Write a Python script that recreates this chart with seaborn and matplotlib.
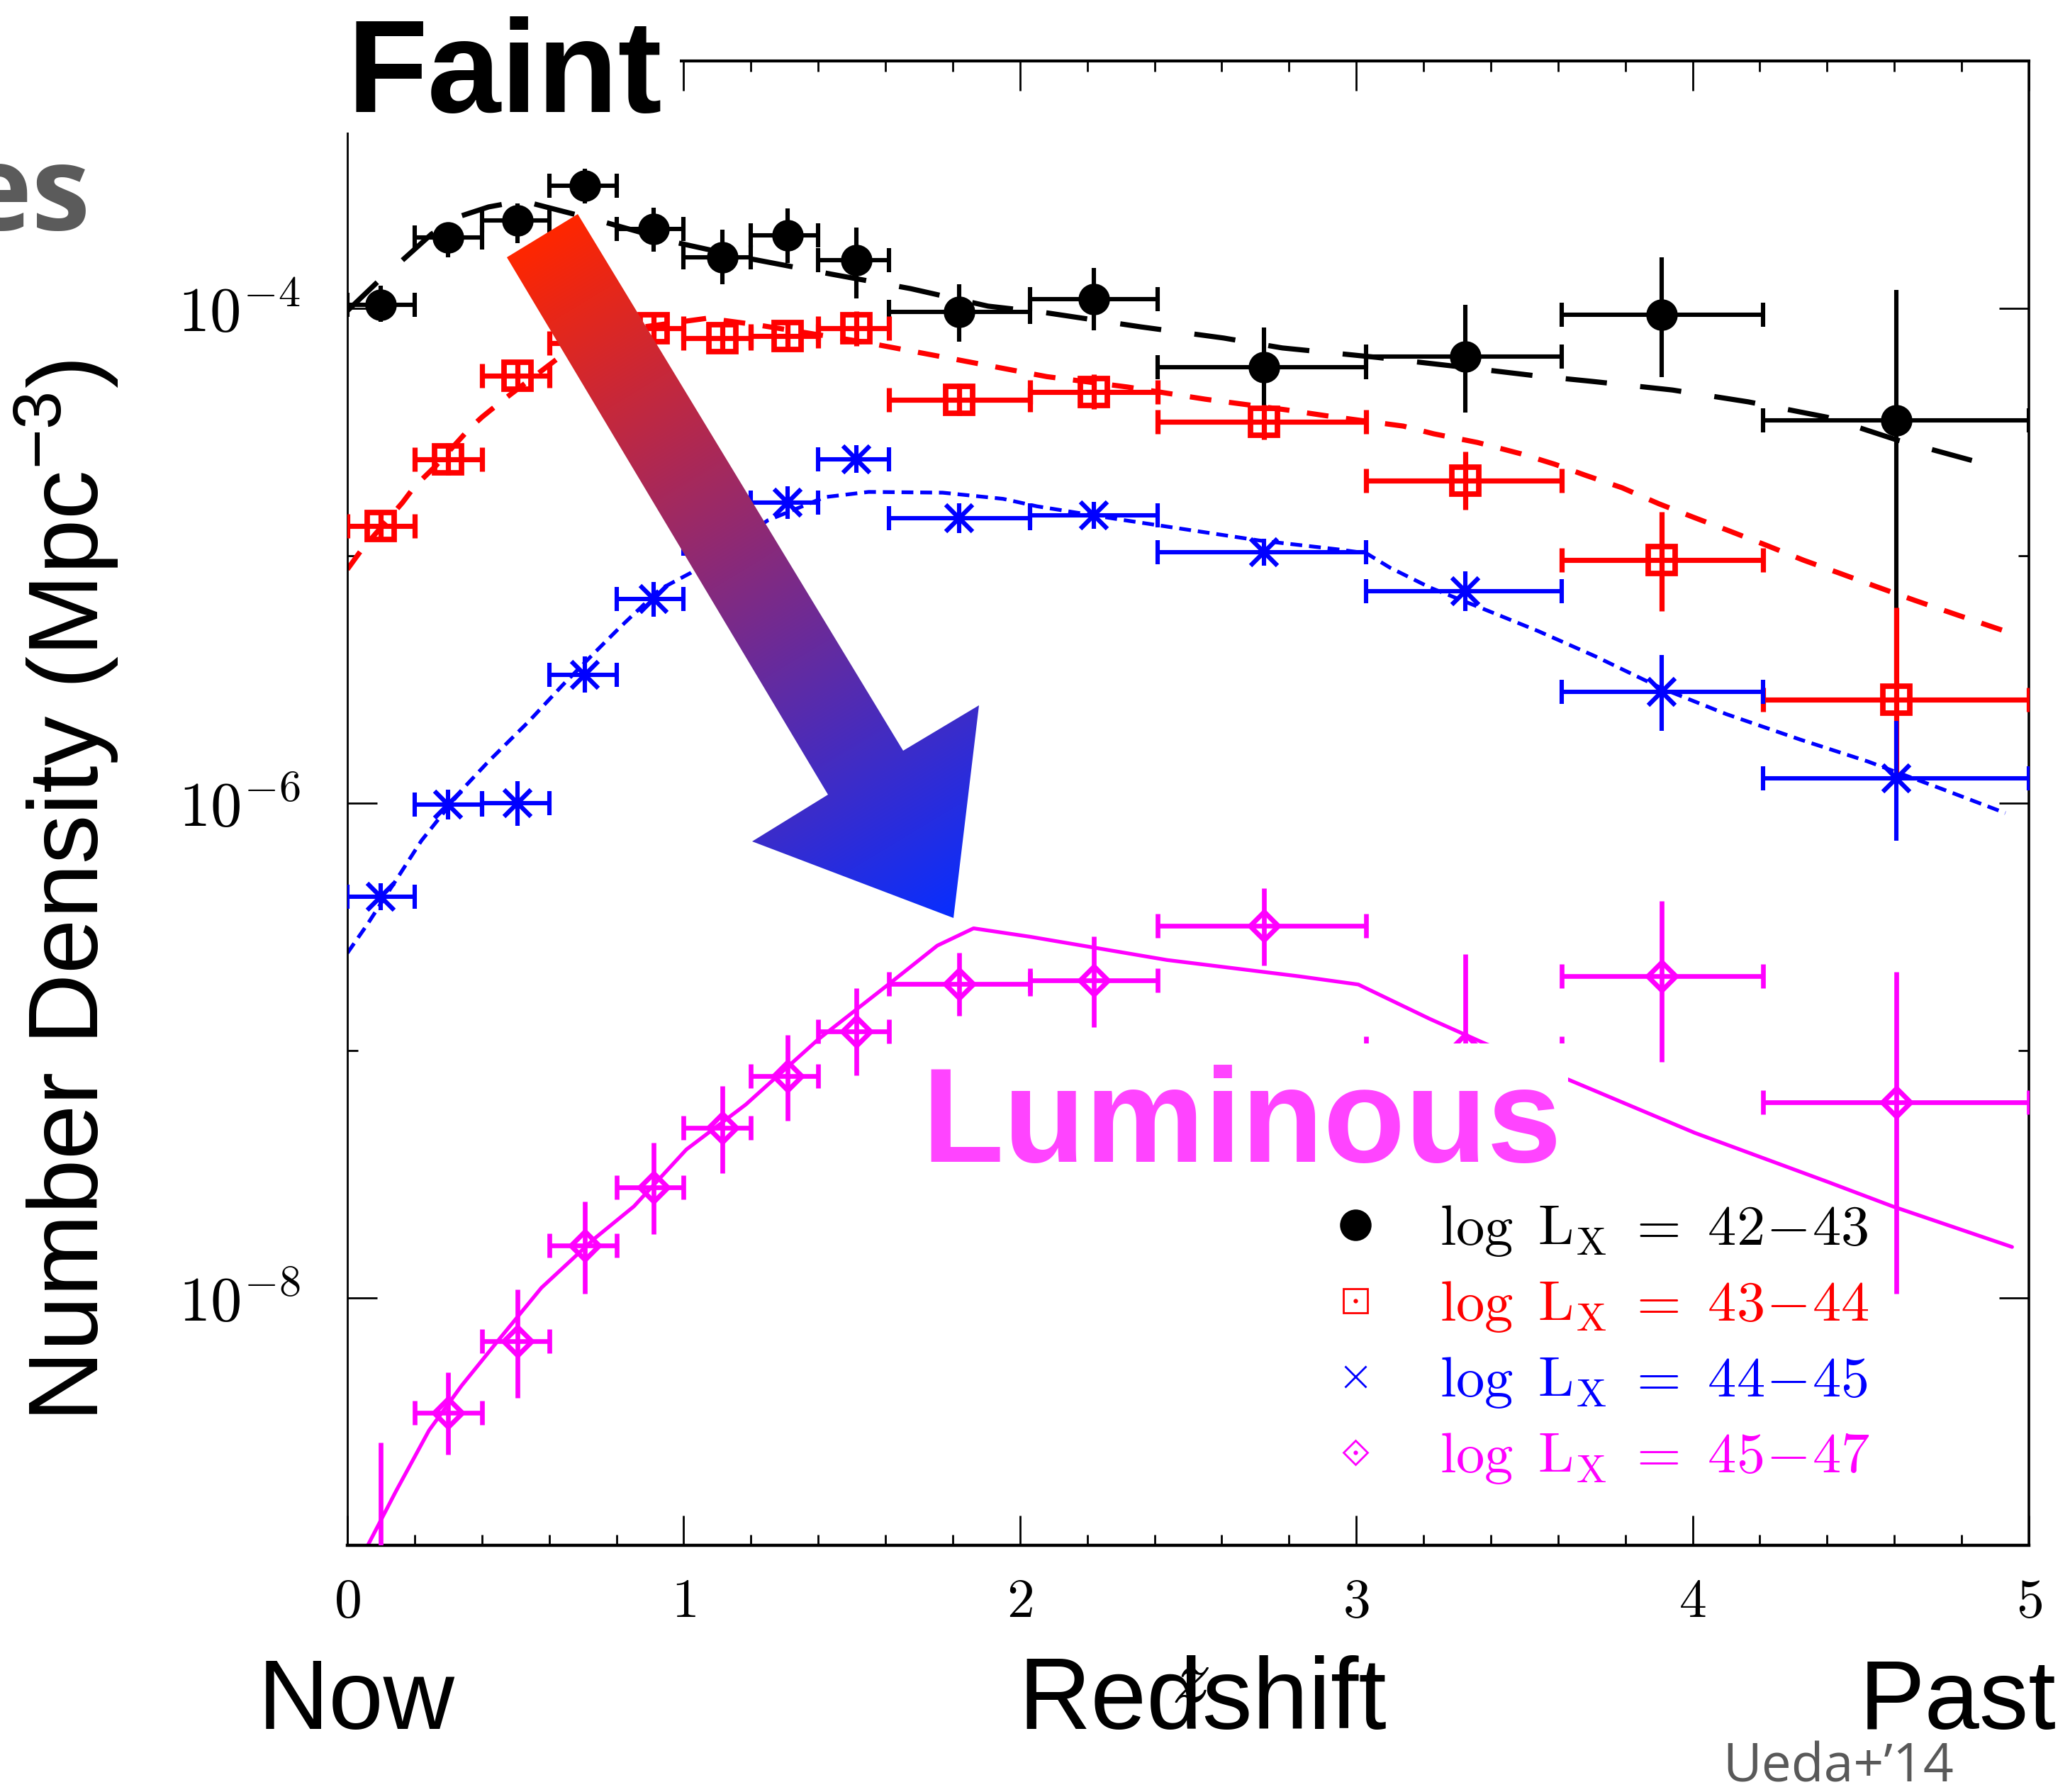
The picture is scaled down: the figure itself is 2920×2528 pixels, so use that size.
import numpy as np
import matplotlib
matplotlib.use("Agg")
import matplotlib.pyplot as plt
import seaborn as sns
from matplotlib.lines import Line2D
from matplotlib.patches import Polygon, Rectangle
from matplotlib.ticker import FixedLocator, MultipleLocator, FuncFormatter, NullFormatter

# ---------------- data (log10 of number density, Mpc^-3) ----------------
Z_MID = [0.10, 0.30, 0.505, 0.707, 0.91, 1.115, 1.31, 1.513, 1.82, 2.22, 2.726, 3.324, 3.909, 4.606]
BIN_LO = [0.0, 0.2, 0.4, 0.6, 0.8, 1.0, 1.2, 1.4, 1.61, 2.03, 2.41, 3.03, 3.61, 4.21]
BIN_HI = [0.2, 0.4, 0.6, 0.8, 1.0, 1.2, 1.4, 1.61, 2.03, 2.41, 3.03, 3.61, 4.21, 5.0]

LOG_42 = [-3.986, -3.713, -3.646, -3.504, -3.680, -3.794, -3.704, -3.805, -4.014, -3.963, -4.238, -4.196, -4.026, -4.453]
LOG_42_LO = [-4.054, -3.794, -3.736, -3.576, -3.771, -3.903, -3.817, -3.960, -4.135, -4.089, -4.400, -4.420, -4.277, -5.500]
LOG_42_HI = [-3.908, -3.669, -3.576, -3.435, -3.593, -3.682, -3.595, -3.673, -3.903, -3.838, -4.077, -3.986, -3.794, -3.925]

LOG_43 = [-4.880, -4.609, -4.273, -4.140, -4.081, -4.120, -4.113, -4.081, -4.369, -4.337, -4.459, -4.697, -5.018, -5.582]
LOG_43_LO = [-4.940, -4.674, -4.333, -4.190, -4.141, -4.180, -4.173, -4.151, -4.434, -4.407, -4.529, -4.814, -5.223, -5.900]
LOG_43_HI = [-4.820, -4.544, -4.213, -4.090, -4.021, -4.060, -4.053, -4.011, -4.304, -4.267, -4.389, -4.579, -4.821, -5.209]

LOG_44 = [-6.379, -6.006, -6.001, -5.480, -5.176, -4.950, -4.785, -4.609, -4.849, -4.836, -4.985, -5.143, -5.550, -5.900]
LOG_44_LO = [-6.434, -6.066, -6.091, -5.553, -5.246, -5.010, -4.850, -4.664, -4.909, -4.891, -5.040, -5.223, -5.707, -6.152]
LOG_44_HI = [-6.324, -5.946, -5.911, -5.407, -5.106, -4.890, -4.720, -4.554, -4.789, -4.781, -4.930, -5.062, -5.400, -5.669]

LOG_45 = [-9.250, -8.464, -8.176, -7.789, -7.553, -7.312, -7.103, -6.922, -6.730, -6.715, -6.497, -6.990, -6.700, -7.210]
LOG_45_LO = [-9.600, -8.634, -8.403, -7.983, -7.742, -7.495, -7.283, -7.100, -6.859, -6.905, -6.657, -7.400, -7.045, -7.983]
LOG_45_HI = [-8.585, -8.300, -7.967, -7.610, -7.372, -7.144, -6.938, -6.749, -6.606, -6.540, -6.343, -6.609, -6.394, -6.683]

# model curves
MOD_42_Z = [0, 0.1, 0.16, 0.25, 0.33, 0.42, 0.52, 0.59, 0.745, 0.985, 1.2, 1.44, 1.674, 1.905, 2.074,
            2.36, 2.606, 2.78, 3.06, 3.30, 3.53, 3.70, 3.94, 4.166, 4.40, 4.61, 4.85, 4.91]
MOD_42_LOG = [-4.01, -3.88, -3.81, -3.70, -3.63, -3.59, -3.565, -3.59, -3.644, -3.736, -3.80, -3.862, -3.92,
              -3.991, -4.017, -4.075, -4.12, -4.16, -4.198, -4.235, -4.272, -4.295, -4.33, -4.378, -4.44,
              -4.533, -4.622, -4.65]
MOD_43_Z = [0, 0.04, 0.164, 0.20, 0.262, 0.364, 0.40, 0.459, 0.63, 0.80, 1.07, 1.215, 1.53, 1.80, 2.08, 2.32,
            2.55, 2.79, 2.92, 3.14, 3.23, 3.36, 3.49, 3.59, 3.68, 3.79, 3.90, 4.00, 4.11, 4.22, 4.33, 4.44,
            4.545, 4.66, 4.78, 4.886, 4.93]
MOD_43_LOG = [-5.055, -4.98, -4.785, -4.72, -4.638, -4.485, -4.44, -4.375, -4.198, -4.09, -4.04, -4.066,
              -4.135, -4.204, -4.276, -4.318, -4.367, -4.41, -4.436, -4.476, -4.507, -4.542, -4.588, -4.63,
              -4.674, -4.725, -4.79, -4.843, -4.90, -4.958, -5.018, -5.072, -5.124, -5.18, -5.236, -5.285, -5.305]
MOD_44_Z = [0, 0.06, 0.15, 0.22, 0.34, 0.42, 0.54, 0.64, 0.74, 0.81, 0.93, 1.02, 1.25, 1.42, 1.55, 1.77, 1.95,
            2.05, 2.28, 2.5, 2.71, 2.95, 3.03, 3.1, 3.22, 3.38, 3.54, 3.71, 3.91, 4.1, 4.32, 4.52, 4.75, 4.93]
MOD_44_LOG = [-6.606, -6.489, -6.30, -6.152, -5.947, -5.831, -5.669, -5.523, -5.385, -5.29, -5.135, -5.07,
              -4.857, -4.763, -4.742, -4.745, -4.77, -4.80, -4.85, -4.895, -4.938, -4.975, -4.99, -5.048,
              -5.129, -5.216, -5.304, -5.406, -5.537, -5.64, -5.743, -5.831, -5.947, -6.04]
MOD_45_Z = [0.03, 0.057, 0.145, 0.243, 0.34, 0.458, 0.577, 0.734, 0.852, 1.008, 1.185, 1.40, 1.617, 1.754,
            1.862, 2.03, 2.437, 2.83, 3.006, 3.22, 3.38, 3.635, 4.007, 4.40, 4.595, 4.95]
MOD_45_LOG = [-9.10, -9.01, -8.78, -8.535, -8.354, -8.156, -7.959, -7.761, -7.63, -7.40, -7.218, -6.955, -6.724,
              -6.576, -6.506, -6.54, -6.634, -6.70, -6.733, -6.873, -6.97, -7.12, -7.333, -7.53, -7.63, -7.794]

LEGEND_LABELS = [r"$\mathrm{log}\ \,\mathrm{L_X}\ =\ 42\!-\!43$",
                 r"$\mathrm{log}\ \,\mathrm{L_X}\ =\ 43\!-\!44$",
                 r"$\mathrm{log}\ \,\mathrm{L_X}\ =\ 44\!-\!45$",
                 r"$\mathrm{log}\ \,\mathrm{L_X}\ =\ 45\!-\!47$"]
X_MAJOR_STEP = 1
X_MINOR_STEP = 0.2
Y_MAJOR_EXP = [-8, -6, -4]
Y_MINOR_EXP = [-9, -7, -5, -3]

# ---------------- style ----------------
sns.set_theme(style="ticks")
plt.rcParams["font.family"] = ["Liberation Sans", "DejaVu Sans"]
plt.rcParams["mathtext.fontset"] = "cm"
plt.rcParams["mathtext.rm"] = "Liberation Sans"
plt.rcParams["mathtext.it"] = "Liberation Sans:italic"
plt.rcParams["mathtext.bf"] = "Liberation Sans:bold"
plt.rcParams["lines.scale_dashes"] = False

W, H = 2920, 2528
fig = plt.figure(figsize=(W / 200, H / 200), dpi=200)
fig.patch.set_facecolor("white")
ax = fig.add_axes([490 / W, 1 - 2180 / H, (2862 - 490) / W, (2180 - 86) / H])
ax.set_facecolor("white")
ax.set_yscale("log")
ax.set_xlim(0, 5)
ax.set_ylim(1e-9, 1e-3)

# ---------------- model curves (seaborn) ----------------
models = [
    (MOD_42_Z, MOD_42_LOG, "black", 2.6, (21, 17)),
    (MOD_43_Z, MOD_43_LOG, "#ff0000", 2.6, (11, 9)),
    (MOD_44_Z, MOD_44_LOG, "#0000ff", 1.9, (6, 3.5)),
    (MOD_45_Z, MOD_45_LOG, "#ff00ff", 1.9, None),
]
for zz, lg, col, lw, dash in models:
    sns.lineplot(x=np.array(zz), y=10.0 ** np.array(lg), ax=ax, color=col, linewidth=lw,
                 estimator=None, sort=False, legend=False, zorder=2)
    ln = ax.get_lines()[-1]
    if dash is not None:
        ln.set_dashes(dash)
        ln.set_dash_capstyle("butt")

# ---------------- data points ----------------
zmid = np.array(Z_MID)
xerr = [zmid - np.array(BIN_LO), np.array(BIN_HI) - zmid]


def draw_series(lg, lo, hi, col, marker, ms, mew, elw, filled):
    y = 10.0 ** np.array(lg)
    yerr = [y - 10.0 ** np.array(lo), 10.0 ** np.array(hi) - y]
    ax.errorbar(zmid, y, xerr=xerr, fmt="none", ecolor=col, elinewidth=elw,
                capsize=6, capthick=elw, zorder=3)
    ax.errorbar(zmid, y, yerr=yerr, fmt="none", ecolor=col, elinewidth=elw,
                capsize=0, zorder=3)
    ax.plot(zmid, y, ls="none", marker=marker, ms=ms, mew=mew, mec=col,
            mfc=col if filled else "none", zorder=4)


draw_series(LOG_42, LOG_42_LO, LOG_42_HI, "black", "o", 15, 1, 2.2, True)
draw_series(LOG_43, LOG_43_LO, LOG_43_HI, "#ff0000", "s", 13.5, 2.8, 2.6, False)
draw_series(LOG_44, LOG_44_LO, LOG_44_HI, "#0000ff", "x", 14, 2.3, 2.2, False)
draw_series(LOG_45, LOG_45_LO, LOG_45_HI, "#ff00ff", "D", 10, 2.5, 2.4, False)

# ---------------- axes styling ----------------
ax.xaxis.set_major_locator(MultipleLocator(X_MAJOR_STEP))
ax.xaxis.set_minor_locator(MultipleLocator(X_MINOR_STEP))
ax.xaxis.set_major_formatter(FuncFormatter(lambda v, p: "$%d$" % round(v)))
ax.yaxis.set_major_locator(FixedLocator(10.0 ** np.array(Y_MAJOR_EXP, dtype=float)))
ax.yaxis.set_minor_locator(FixedLocator(10.0 ** np.array(Y_MINOR_EXP, dtype=float)))
ax.yaxis.set_major_formatter(FuncFormatter(lambda v, p: r"$10^{-%d}$" % abs(round(np.log10(v)))))
ax.yaxis.set_minor_formatter(NullFormatter())
ax.tick_params(which="major", direction="in", length=15, width=1.0, top=True, right=True,
               labelsize=28, color="black", labelcolor="black")
ax.tick_params(which="minor", direction="in", length=5.4, width=1.0, top=True, right=True, color="black")
ax.tick_params(axis="x", which="major", pad=16)
ax.tick_params(axis="y", which="major", pad=24, labelsize=32)
for side, lw in [("left", 1.0), ("bottom", 1.6), ("top", 1.5), ("right", 1.3)]:
    ax.spines[side].set_linewidth(lw)
    ax.spines[side].set_color("black")
    ax.spines[side].set_visible(True)

ax.set_ylabel(r"Number Density (Mpc$^{\mathrm{-3}}$)", fontsize=50, color="black", va="center",
              math_fontfamily="custom")
ax.yaxis.set_label_coords((93 - 490) / (2862 - 490), (2180 - 1257) / (2180 - 86))

# ---------------- legend ----------------
handles = [
    Line2D([], [], ls="none", marker="o", ms=15, color="black"),
    (Line2D([], [], ls="none", marker="s", ms=12, mfc="none", mec="#ff0000", mew=1.0),
     Line2D([], [], ls="none", marker=".", ms=2.5, color="#ff0000")),
    Line2D([], [], ls="none", marker="x", ms=11, mec="#0000ff", mew=1.0),
    (Line2D([], [], ls="none", marker="D", ms=8.5, mfc="none", mec="#ff00ff", mew=1.0),
     Line2D([], [], ls="none", marker=".", ms=2.5, color="#ff00ff")),
]
leg = ax.legend(handles, LEGEND_LABELS, loc="upper left", bbox_to_anchor=(1872 / W, 1 - 1697 / H),
                bbox_transform=fig.transFigure, frameon=False, borderpad=0, borderaxespad=0,
                handlelength=1.0, handletextpad=0.97, labelspacing=0.36, fontsize=29,
                labelcolor=["black", "#ff0000", "#0000ff", "#ff00ff"])
leg.set_zorder(8)

# ---------------- overlay decorations ----------------
ov = fig.add_axes([0, 0, 1, 1], zorder=5)
ov.set_xlim(0, W)
ov.set_ylim(H, 0)
ov.set_facecolor("none")
ov.axis("off")

# gradient arrow
ARROW = np.array([[715, 363], [815, 302], [1274, 1059], [1381, 995], [1345, 1295],
                  [1061, 1187], [1168, 1121]], dtype=float)
tail = (ARROW[0] + ARROW[1]) / 2
tip = ARROW[4]
gx = np.linspace(690, 1410, 500)
gy = np.linspace(280, 1320, 700)
GX, GY = np.meshgrid(gx, gy)
d = tip - tail
t = np.clip(((GX - tail[0]) * d[0] + (GY - tail[1]) * d[1]) / (d @ d), 0, 1)
c0 = np.array([1.0, 0.15, 0.0])
c1 = np.array([0.03, 0.18, 1.0])
img = (1 - t)[..., None] * c0 + t[..., None] * c1
im = ov.imshow(img, extent=(690, 1410, 1320, 280), origin="upper", aspect="auto",
               interpolation="bilinear", zorder=6)
poly = Polygon(ARROW, closed=True, fc="none", ec="none", transform=ov.transData)
ov.add_patch(poly)
im.set_clip_path(poly)

# "Faint" with white backing over the frame corner
ov.add_patch(Rectangle((440, 0), 959 - 440, 187, fc="white", ec="none", zorder=6))
ov.text(490, 158, "Faint", fontsize=67, fontweight="bold", color="black",
        ha="left", va="baseline", zorder=7)

# "Luminous" with white backing
ov.add_patch(Rectangle((1290, 1472), 2212 - 1290, 190, fc="white", ec="none", zorder=6))
ov.text(1300, 1639, "Luminous", fontsize=68, fontweight="bold", color="#ff44ff",
        ha="left", va="baseline", zorder=7)

# partial word from slide
ov.text(128, 324, "es", fontsize=60, fontweight="bold", color="#5b5b5b",
        family=["Open Sans", "DejaVu Sans"], ha="right", va="baseline", zorder=7)

# bottom labels
ov.text(1679, 2401, "$z$", fontsize=40, color="black", ha="center", va="baseline", zorder=6)
ov.text(503, 2439, "Now", fontsize=50, color="black", ha="center", va="baseline", zorder=7)
ov.text(1696, 2439, "Redshift", fontsize=51, color="black", ha="center", va="baseline", zorder=7)
ov.text(2762, 2439, "Past", fontsize=50, color="black", ha="center", va="baseline", zorder=7)
ov.text(2430, 2514, "Ueda+\u201914", fontsize=27, color="#595959",
        family=["Open Sans", "DejaVu Sans"], ha="left", va="baseline", zorder=7)

fig.savefig("out.png", dpi=200, facecolor="white")
